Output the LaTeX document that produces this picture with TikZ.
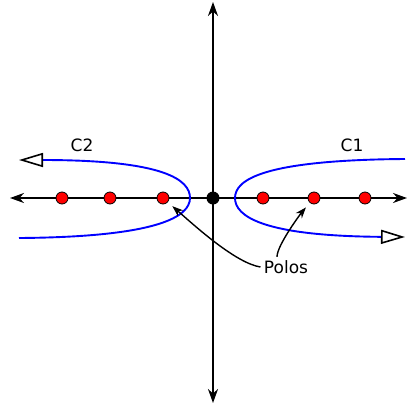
\documentclass[tikz,border=0pt]{standalone}
\usepackage{fontspec}
\setmainfont{DejaVu Sans}
\usetikzlibrary{arrows.meta}
\tikzset{
  pole/.style={circle,draw=black,fill=red,inner sep=0pt,minimum size=12pt,line width=0.8pt},
  origin/.style={circle,fill=black,inner sep=0pt,minimum size=13pt},
  axis/.style={line width=2pt,{Stealth[length=14pt,width=10pt]}-{Stealth[length=14pt,width=10pt]}},
  locus/.style={blue,line width=1.9pt},
  opentip/.style={-{Triangle[open,length=24pt,width=14pt,black,line width=1.6pt]}},
  note/.style={line width=1.4pt,-{Stealth[length=11pt,width=8pt]},shorten >=6pt},
}
\begin{document}
\begin{tikzpicture}[x=1pt,y=-1pt,font=\fontsize{17}{20}\selectfont]
\useasboundingbox (0,0) rectangle (408,408);
\coordinate (xl) at (10,198);
\coordinate (xr) at (407,198);
\coordinate (yt) at (213,2);
\coordinate (yb) at (213,403);
\draw[axis] (xl) -- (xr);
\draw[axis] (yb) -- (yt);
% lugar de las raices
\draw[locus,opentip] (19,238) .. controls (160,237) and (190,216) .. (190,198)
   .. controls (190,180) and (165,160) .. (19,160);
\draw[locus,opentip] (405,159) .. controls (262,160) and (235,180) .. (235,198)
   .. controls (235,216) and (262,236) .. (405,237);
\node[origin] (o) at (213,198) {};
\foreach \x/\n in {62/1,110/2,163/3,263/4,314/5,365/6}
  \node[pole] (p\n) at (\x,198) {};
\node (c2) at (82,145) {C2};
\node (c1) at (352,145) {C1};
\node (polos) at (286,267) {Polos};
\draw[note] (polos.west) .. controls +(-25,-4) and +(32,28) .. (p3);
\draw[note] ([xshift=-9pt]polos.north) .. controls +(0,-12) and +(-12,14) .. (p5);
\end{tikzpicture}
\end{document}
